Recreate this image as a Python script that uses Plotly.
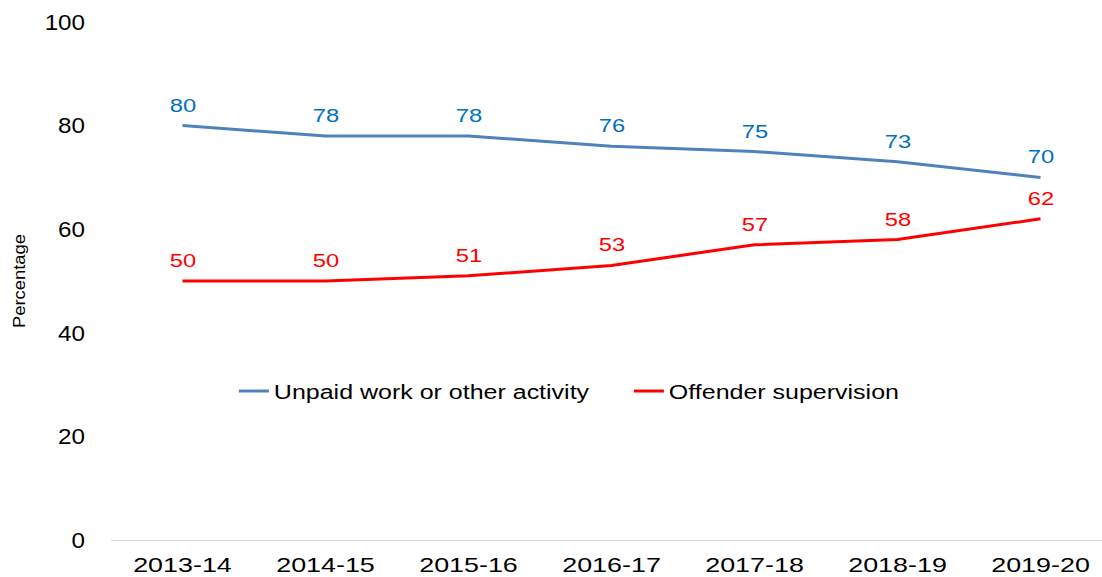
import plotly.graph_objects as go

years = ["2013-14", "2014-15", "2015-16", "2016-17", "2017-18", "2018-19", "2019-20"]
unpaid_work = [80, 78, 78, 76, 75, 73, 70]
supervision = [50, 50, 51, 53, 57, 58, 62]
y_ticks = [0, 20, 40, 60, 80, 100]

BLUE_LINE = "#4F81BD"
BLUE_TEXT = "#0070C0"
RED = "#FF0000"
FONT = "Liberation Sans, Arial, sans-serif"

fig = go.Figure()
fig.add_trace(go.Scatter(
    x=years, y=unpaid_work, mode="lines", name="Unpaid work or other activity",
    line=dict(color=BLUE_LINE, width=3),
))
fig.add_trace(go.Scatter(
    x=years, y=supervision, mode="lines", name="Offender supervision",
    line=dict(color=RED, width=3),
))

# value labels above each point
for series, colour in ((unpaid_work, BLUE_TEXT), (supervision, RED)):
    for yr, v in zip(years, series):
        fig.add_annotation(
            x=yr, y=v, text=str(v), showarrow=False, yshift=20,
            font=dict(family=FONT, size=18, color=colour),
        )

fig.update_layout(
    width=1102, height=577,
    margin=dict(l=111, r=0, t=22, b=37),
    paper_bgcolor="white", plot_bgcolor="white",
    font=dict(family=FONT, size=21, color="black"),
    showlegend=True,
    legend=dict(
        orientation="h", yanchor="middle", xanchor="left", x=0.124, y=0.2876,
        font=dict(family=FONT, size=20, color="black"),
        bgcolor="rgba(0,0,0,0)",
        entrywidthmode="pixels", entrywidth=350,
    ),
    xaxis=dict(
        type="category", range=[-0.5, 6.43], showgrid=False,
        showline=True, linecolor="#D9D9D9", linewidth=1,
        ticks="", tickfont=dict(size=21), ticklabelstandoff=6,
    ),
    yaxis=dict(
        range=[0, 100], tickvals=y_ticks, showgrid=False, zeroline=False,
        showline=False, ticks="", tickfont=dict(size=22), ticklabelstandoff=25,
        title=dict(text="Percentage", font=dict(size=16), standoff=18),
    ),
)

# widen the lettering horizontally (wide-set text style); re-applied after redraws
stretch_js = """
var gd = document.getElementById('{plot_id}');
function widen(sel, s) {
  gd.querySelectorAll(sel).forEach(function (t) {
    var cur = t.getAttribute('transform') || '';
    if (t.getAttribute('data-w') === cur && cur !== '') return;
    var b;
    try { b = t.getBBox(); } catch (e) { return; }
    var a = t.getAttribute('text-anchor') || 'start';
    var cx = a === 'end' ? b.x + b.width : (a === 'middle' ? b.x + b.width / 2 : b.x);
    var tr = cur + ' translate(' + cx + ',0) scale(' + s + ',1) translate(' + (-cx) + ',0)';
    t.setAttribute('transform', tr);
    t.setAttribute('data-w', tr);
  });
}
function widenAll() {
  widen('.xtick text', 1.28);
  widen('.ytick text', 1.1);
  widen('text.legendtext', 1.25);
  widen('.annotation-text', 1.32);
  widen('.ytitle', 1.15);
  gd.querySelectorAll('g.legend [clip-path]').forEach(function (c) {
    c.removeAttribute('clip-path');
  });
}
widenAll();
gd.on('plotly_afterplot', widenAll);
setTimeout(widenAll, 50);
setTimeout(widenAll, 400);
"""

fig.write_html("out.html", post_script=stretch_js)
